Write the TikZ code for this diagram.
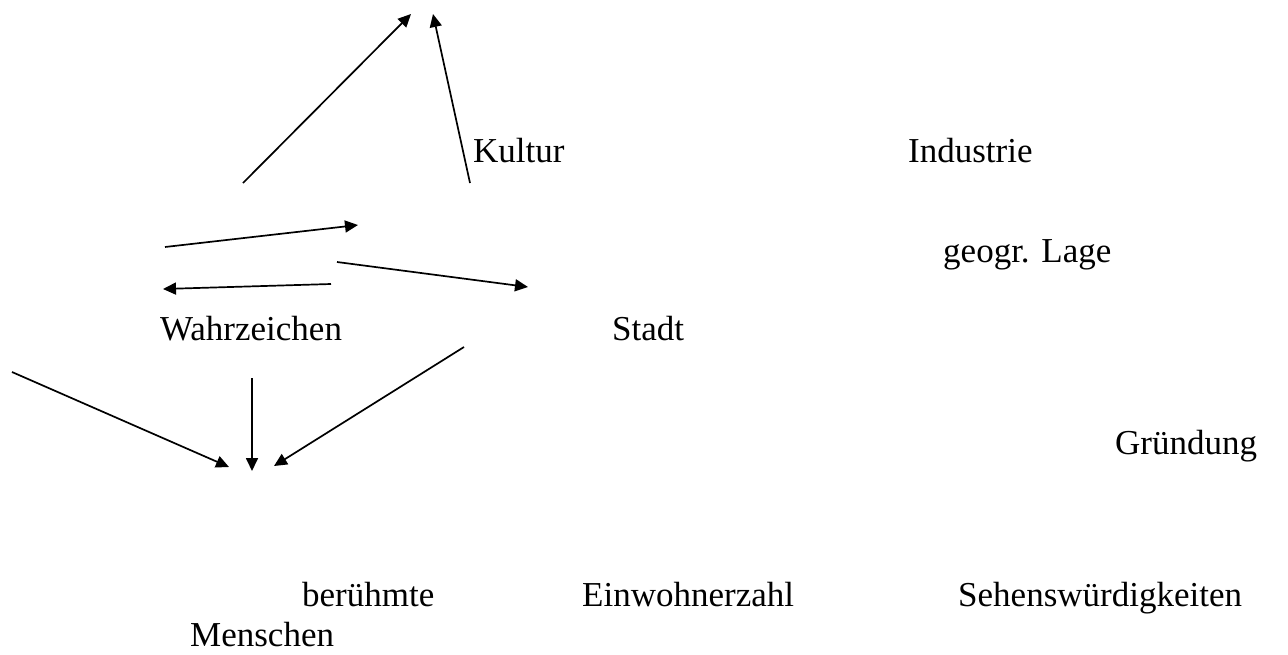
\documentclass[tikz,border=0pt]{standalone}
\usepackage{fontspec}
\setmainfont{Liberation Serif}
\usetikzlibrary{arrows.meta}
\begin{document}
\begin{tikzpicture}[x=1pt,y=-1pt,
  lbl/.style={anchor=base west,inner sep=0pt,font=\fontsize{35}{39}\selectfont},
  arr/.style={line width=1.7pt,-{Triangle[length=13pt,width=12pt]}}]
\useasboundingbox (0,0) rectangle (1288,654);
\node[lbl] (kultur) at (473,162) {Kultur};
\node[lbl] (industrie) at (908,162) {Industrie};
\node[lbl] (lage) at (943,262) {geogr. Lage};
\node[lbl] (wahr) at (160,340) {Wahrzeichen};
\node[lbl] (stadt) at (612,340) {Stadt};
\node[lbl] (gruend) at (1115,454) {Gründung};
\node[lbl] (beruehmt) at (302,606) {berühmte};
\node[lbl] (einw) at (582,606) {Einwohnerzahl};
\node[lbl] (sehens) at (958,606) {Sehenswürdigkeiten};
\node[lbl] (menschen) at (190,646) {Menschen};
\coordinate (a1s) at (243,183); \coordinate (a1e) at (411,14);
\coordinate (a2s) at (470,183); \coordinate (a2e) at (433,14);
\coordinate (a3s) at (165,247); \coordinate (a3e) at (358,225);
\coordinate (a4s) at (331,284); \coordinate (a4e) at (163,289);
\coordinate (a5s) at (337,262); \coordinate (a5e) at (528,287);
\coordinate (a6s) at (12,372);  \coordinate (a6e) at (229,467);
\coordinate (a7s) at (252,378); \coordinate (a7e) at (252,471);
\coordinate (a8s) at (464,347); \coordinate (a8e) at (274,466);
\foreach \i in {1,...,8} \draw[arr] (a\i s) -- (a\i e);
\end{tikzpicture}
\end{document}
